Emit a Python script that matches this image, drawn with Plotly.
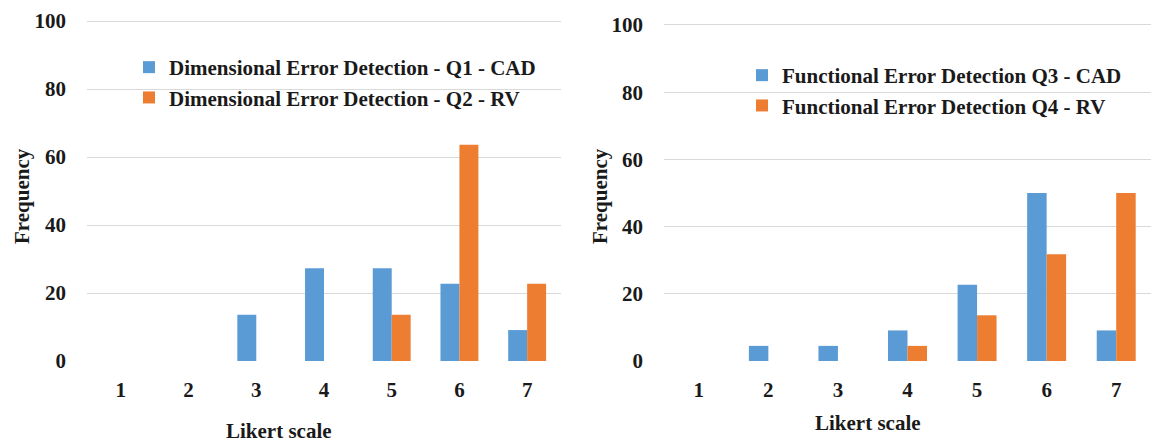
import plotly.graph_objects as go

likert = [1, 2, 3, 4, 5, 6, 7]
tick_labels = ["1", "2", "3", "4", "5", "6", "7"]
q1_cad = [0, 0, 13.6, 27.3, 27.3, 22.7, 9.1]
q2_rv = [0, 0, 0, 0, 13.6, 63.6, 22.7]
q3_cad = [0, 4.5, 4.5, 9.1, 22.7, 50.0, 9.1]
q4_rv = [0, 0, 0, 4.5, 13.6, 31.8, 50.0]

BLUE = "#5B9BD5"
ORANGE = "#ED7D31"
FONT = "Liberation Serif"
FS = 21
W, H = 1161, 443

fig = go.Figure()
fig.add_trace(go.Bar(x=likert, y=q1_cad, name="Dimensional Error Detection - Q1 - CAD",
                     marker_color=BLUE, xaxis="x", yaxis="y", legend="legend", legendgroup="a"))
fig.add_trace(go.Bar(x=likert, y=q2_rv, name="Dimensional Error Detection - Q2 - RV",
                     marker_color=ORANGE, xaxis="x", yaxis="y", legend="legend", legendgroup="b"))
fig.add_trace(go.Bar(x=likert, y=q3_cad, name="Functional Error Detection Q3 - CAD",
                     marker_color=BLUE, xaxis="x2", yaxis="y2", legend="legend2", legendgroup="c"))
fig.add_trace(go.Bar(x=likert, y=q4_rv, name="Functional Error Detection Q4 - RV",
                     marker_color=ORANGE, xaxis="x2", yaxis="y2", legend="legend2", legendgroup="d"))

font = dict(family=FONT, size=FS, color="#1a1a1a", weight="bold")

xcommon = dict(range=[0.5, 7.5], tickvals=likert, ticktext=tick_labels, showgrid=False,
               zeroline=False, showline=False, ticks="", tickfont=font, ticklabelstandoff=14,
               fixedrange=True, automargin=False)
ycommon = dict(range=[0, 100.5], tickvals=[0, 20, 40, 60, 80, 100], showgrid=True,
               gridcolor="#d9d9d9", gridwidth=1.3,
               zeroline=False, showline=False, ticks="", tickfont=font, ticklabelstandoff=20,
               fixedrange=True, automargin=False)

fig.update_layout(
    template="none",
    width=W, height=H,
    margin=dict(l=0, r=0, t=0, b=0, autoexpand=False),
    paper_bgcolor="white", plot_bgcolor="white",
    barmode="group", bargap=0.44, bargroupgap=0,
    font=font,
    xaxis=dict(domain=[87 / W, 561 / W], anchor="y", **xcommon),
    yaxis=dict(domain=[(H - 361) / H, (H - 19.3) / H], anchor="x", **ycommon),
    xaxis2=dict(domain=[664 / W, 1151 / W], anchor="y2", **xcommon),
    yaxis2=dict(domain=[(H - 361) / H, (H - 23.3) / H], anchor="x2", **ycommon),
    legend=dict(x=(155 - 26) / W, y=1 - 47 / H, xanchor="left", yanchor="top",
                bgcolor="rgba(0,0,0,0)", font=font, tracegroupgap=0),
    legend2=dict(x=(768 - 26) / W, y=1 - 55 / H, xanchor="left", yanchor="top",
                 bgcolor="rgba(0,0,0,0)", font=font, tracegroupgap=0),
    annotations=[
        dict(text="Frequency", x=22 / W, y=1 - 196 / H, xref="paper", yref="paper",
             textangle=-90, showarrow=False, font=font, xanchor="center", yanchor="middle"),
        dict(text="Frequency", x=600 / W, y=1 - 196 / H, xref="paper", yref="paper",
             textangle=-90, showarrow=False, font=font, xanchor="center", yanchor="middle"),
        dict(text="Likert scale", x=279 / W, y=1 - 431 / H, xref="paper", yref="paper",
             showarrow=False, font=font, xanchor="center", yanchor="middle"),
        dict(text="Likert scale", x=868 / W, y=1 - 423 / H, xref="paper", yref="paper",
             showarrow=False, font=font, xanchor="center", yanchor="middle"),
    ],
)

fig.write_html("out.html", config={"displayModeBar": False},
               post_script="document.body.style.margin='0';document.body.style.overflow='hidden';")
